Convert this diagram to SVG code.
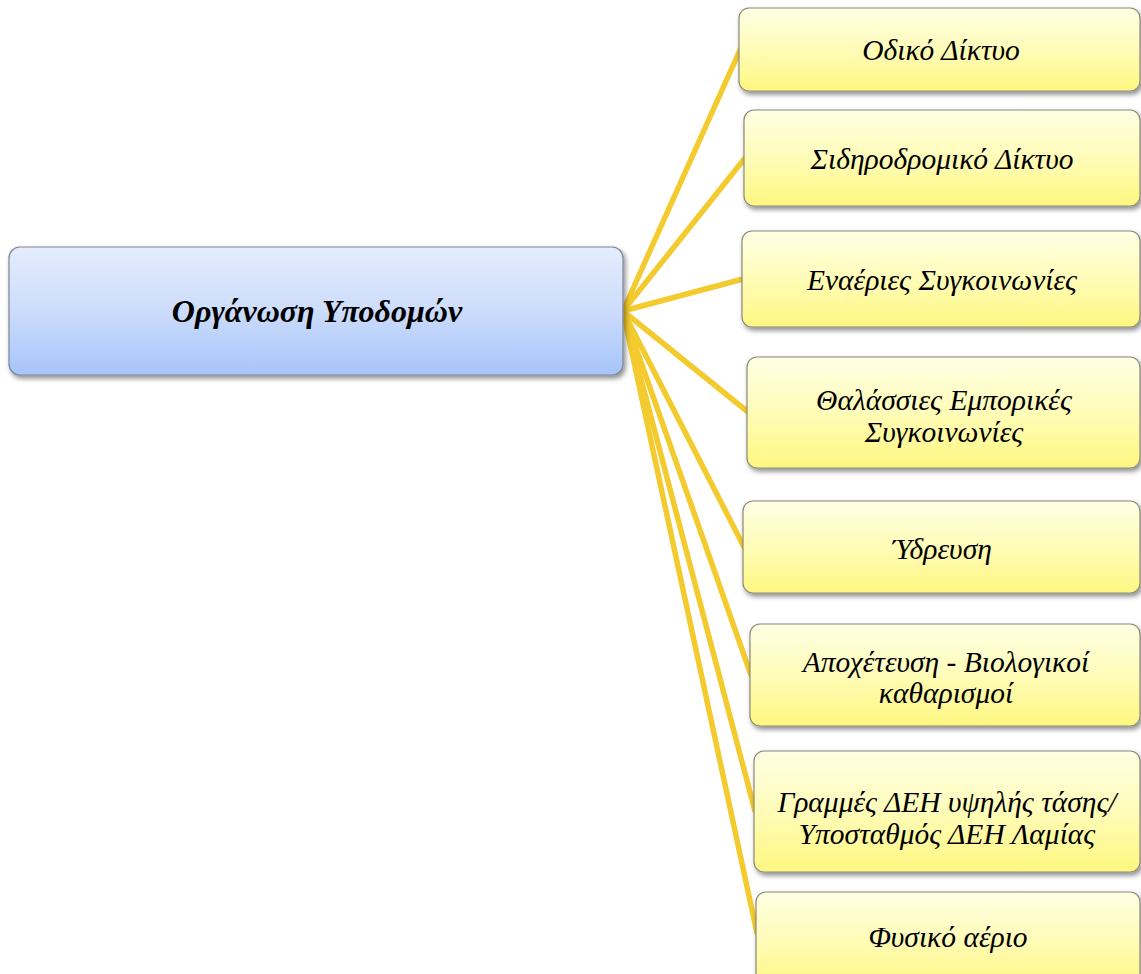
<svg xmlns="http://www.w3.org/2000/svg" width="1141" height="974" viewBox="0 0 1141 974">
<defs>
<linearGradient id="gBlue" x1="0" y1="0" x2="0" y2="1">
<stop offset="0" stop-color="#E4EDFD"/>
<stop offset="0.5" stop-color="#CCDCFB"/>
<stop offset="1" stop-color="#A6C4FA"/>
</linearGradient>
<linearGradient id="gYel" x1="0" y1="0" x2="0" y2="1">
<stop offset="0" stop-color="#FFFFE4"/>
<stop offset="0.5" stop-color="#FFFCB8"/>
<stop offset="1" stop-color="#FFF780"/>
</linearGradient>
<filter id="sh" x="-10%" y="-20%" width="120%" height="150%">
<feDropShadow dx="2" dy="3" stdDeviation="2.5" flood-color="#000" flood-opacity="0.45"/>
</filter>
</defs>
<style>
.con{stroke:#F3CB2E;stroke-width:5.5;fill:none;stroke-linecap:round}
.yb{fill:url(#gYel);stroke:#8a8a7a;stroke-width:1.2;filter:url(#sh)}
.bb{fill:url(#gBlue);stroke:#7f8591;stroke-width:1.2;filter:url(#sh)}
.t{font-family:"Liberation Serif","Times New Roman",serif;font-style:italic;font-size:29.5px;fill:#000;text-anchor:middle}
.tc{font-family:"Liberation Serif","Times New Roman",serif;font-style:italic;font-weight:bold;font-size:32px;fill:#000;text-anchor:middle}
</style>
<rect width="1141" height="974" fill="#fff"/>
<g id="connectors">
<line class="con" x1="623" y1="311" x2="740" y2="50"/>
<line class="con" x1="623" y1="311" x2="745" y2="158"/>
<line class="con" x1="623" y1="311" x2="743" y2="279"/>
<line class="con" x1="623" y1="311" x2="748" y2="412"/>
<line class="con" x1="623" y1="311" x2="744" y2="547"/>
<line class="con" x1="623" y1="311" x2="751" y2="675"/>
<line class="con" x1="623" y1="311" x2="755" y2="811"/>
<line class="con" x1="623" y1="311" x2="757" y2="933"/>
</g>
<g id="center">
<rect class="bb" x="9" y="247" width="614" height="128" rx="11"/>
<text class="tc" x="317" y="322">Οργάνωση Υποδομών</text>
</g>
<g id="n1">
<rect class="yb" x="739" y="8" width="401" height="83" rx="10"/>
<text class="t" x="941" y="60">Οδικό Δίκτυο</text>
</g>
<g id="n2">
<rect class="yb" x="744" y="110" width="396" height="96" rx="10"/>
<text class="t" x="942" y="169">Σιδηροδρομικό Δίκτυο</text>
</g>
<g id="n3">
<rect class="yb" x="742" y="231" width="398" height="96" rx="10"/>
<text class="t" x="942" y="290">Εναέριες Συγκοινωνίες</text>
</g>
<g id="n4">
<rect class="yb" x="747" y="357" width="393" height="111" rx="10"/>
<text class="t" x="944" y="410">Θαλάσσιες Εμπορικές</text>
<text class="t" x="944" y="442">Συγκοινωνίες</text>
</g>
<g id="n5">
<rect class="yb" x="743" y="501" width="397" height="92" rx="10"/>
<text class="t" x="942" y="559">Ύδρευση</text>
</g>
<g id="n6">
<rect class="yb" x="750" y="624" width="390" height="102" rx="10"/>
<text class="t" x="946" y="672">Αποχέτευση - Βιολογικοί</text>
<text class="t" x="946" y="703">καθαρισμοί</text>
</g>
<g id="n7">
<rect class="yb" x="754" y="751" width="386" height="121" rx="10"/>
<text class="t" x="947" y="812">Γραμμές ΔΕΗ υψηλής τάσης/</text>
<text class="t" x="947" y="844">Υποσταθμός ΔΕΗ Λαμίας</text>
</g>
<g id="n8">
<rect class="yb" x="756" y="892" width="384" height="96" rx="10"/>
<text class="t" x="948" y="947">Φυσικό αέριο</text>
</g>
</svg>
